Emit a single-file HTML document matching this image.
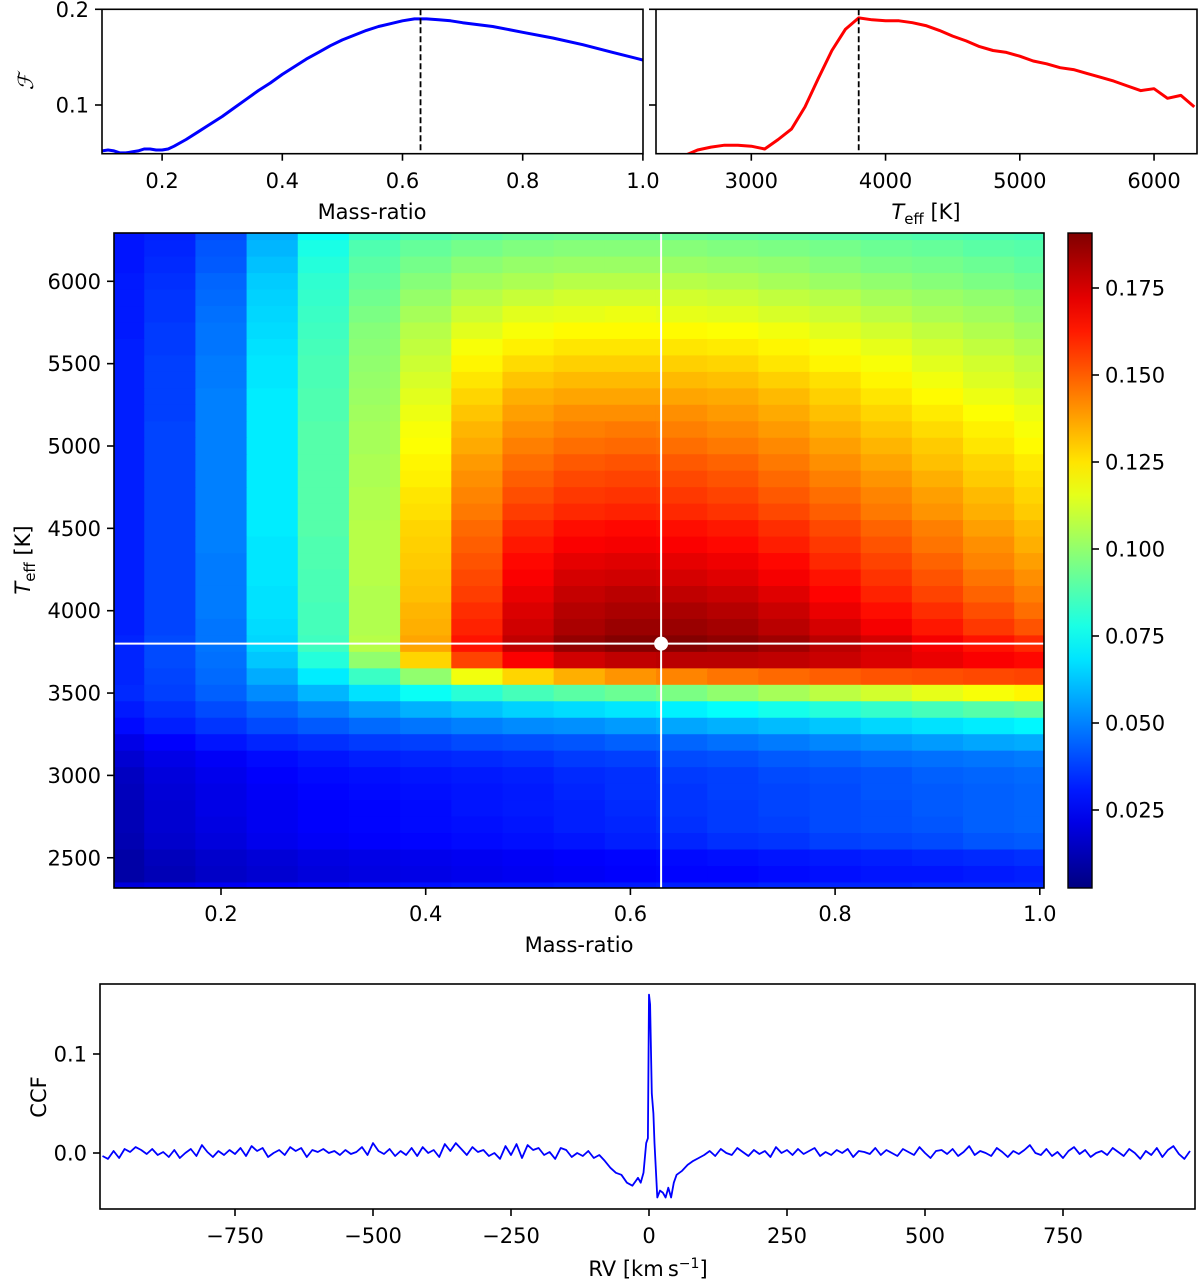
<!DOCTYPE html>
<html><head><meta charset="utf-8">
<style>
html,body{margin:0;padding:0;background:#fff;}
svg{display:block;font-family:"DejaVu Sans","Liberation Sans",sans-serif;}
</style></head>
<body>
<svg id="fig" xmlns="http://www.w3.org/2000/svg" width="1200" height="1284" viewBox="0 0 1200 1284">
<defs>
<clipPath id="clipHM"><rect x="114" y="233" width="930" height="655"/></clipPath>
<clipPath id="clipA"><rect x="102" y="9.3" width="541" height="144.4"/></clipPath>
<clipPath id="clipB"><rect x="656" y="9.3" width="541" height="144.4"/></clipPath>
<clipPath id="clipC"><rect x="100" y="984" width="1095" height="225"/></clipPath>
<linearGradient id="jetGrad" x1="0" y1="1" x2="0" y2="0"></linearGradient>
</defs>
<g id="panelA"></g>
<g id="panelB"></g>
<g id="heat"></g>
<g id="cbar"></g>
<g id="panelC"></g>
</svg>
<script>
const qCols = [0.10,0.15,0.20,0.25,0.30,0.35,0.40,0.45,0.50,0.55,0.60,0.65,0.70,0.75,0.80,0.85,0.90,0.95,1.00];
const teffRows = [6300,6200,6100,6000,5900,5800,5700,5600,5500,5400,5300,5200,5100,5000,4900,4800,4700,4600,4500,4400,4300,4200,4100,4000,3900,3800,3700,3600,3500,3400,3300,3200,3100,3000,2900,2800,2700,2600,2500,2400,2300];
const gridMilli = [
[30,32,40,58,75,84,88,90,92,93,93,93,92,91,90,89,88,87,86],
[30,33,42,60,78,88,92,95,97,98,98,98,97,96,95,93,92,90,89],
[30,34,43,62,80,90,95,99,101,102,102,102,101,100,98,96,95,93,91],
[31,35,45,64,82,92,98,103,105,107,107,107,106,104,102,100,98,96,94],
[31,36,46,65,83,94,101,107,110,112,112,112,111,109,107,104,102,100,98],
[31,36,47,66,84,96,104,111,115,116,117,116,115,113,111,108,105,103,100],
[31,37,48,67,85,98,107,115,119,121,121,121,120,118,115,112,109,106,103],
[32,37,48,68,86,99,109,119,123,125,125,125,124,122,119,116,112,109,106],
[32,38,49,69,87,100,111,122,127,129,129,129,128,125,122,119,115,112,109],
[32,38,49,69,87,101,113,125,131,133,133,133,132,129,126,122,118,114,111],
[32,38,50,70,88,102,115,128,135,137,137,137,136,133,129,125,121,117,114],
[32,38,50,70,88,103,117,131,138,141,141,141,139,136,132,128,124,120,117],
[32,39,50,70,89,104,119,134,141,144,145,144,142,139,135,131,127,123,119],
[32,39,50,70,89,104,120,136,144,147,148,147,145,142,138,134,130,125,121],
[32,39,50,70,89,105,122,139,147,151,152,151,149,145,141,137,132,128,124],
[32,39,50,70,89,105,123,141,150,154,155,154,152,148,144,140,135,130,126],
[32,39,50,70,89,106,125,143,153,157,158,157,155,151,147,143,138,133,128],
[32,39,50,70,89,106,126,145,156,160,161,160,158,154,150,145,140,135,130],
[32,39,50,70,89,107,128,148,160,165,166,165,163,159,154,149,144,138,133],
[32,39,50,69,88,107,129,150,163,168,169,168,166,162,157,152,146,141,135],
[32,39,49,69,88,107,130,152,166,172,173,172,170,166,160,155,149,143,138],
[32,39,49,69,87,107,131,154,168,175,176,175,173,169,164,158,152,146,141],
[32,39,49,68,87,106,132,156,171,178,180,179,177,173,167,161,155,149,144],
[32,39,49,68,86,106,134,159,174,181,183,183,181,177,171,165,159,153,147],
[32,39,48,67,86,106,135,161,176,183,186,186,184,180,175,169,163,157,152],
[33,40,48,66,85,107,137,164,179,187,190,190,188,185,180,175,169,164,160],
[33,40,47,63,80,100,128,155,168,176,179,180,180,179,177,174,171,168,166],
[33,39,46,58,70,84,100,118,128,135,140,143,146,148,150,152,153,154,155],
[34,38,44,52,60,68,75,81,86,90,93,96,100,104,108,112,116,119,122],
[31,35,40,45,50,55,59,62,65,67,69,71,74,77,80,83,86,89,91],
[28,32,36,40,43,46,48,50,52,53,55,57,59,61,63,66,68,70,72],
[22,26,30,33,35,37,38,40,41,42,44,45,47,49,51,53,55,57,58],
[18,22,25,28,30,32,33,34,35,37,38,40,41,43,44,46,47,48,49],
[15,20,23,26,28,29,30,31,32,34,35,37,38,40,41,42,44,45,46],
[14,19,22,25,27,28,29,30,31,33,35,36,38,39,40,42,43,44,45],
[13,18,22,24,26,27,28,30,31,32,34,36,37,39,40,41,43,44,45],
[13,18,21,24,26,27,28,29,30,32,33,35,37,38,40,41,42,44,45],
[12,17,20,23,25,26,27,28,29,30,32,33,35,36,38,39,40,42,43],
[10,14,17,19,21,22,23,24,25,26,27,28,29,30,31,32,33,34,35],
[10,13,16,18,20,21,22,23,24,25,26,27,27,28,29,30,30,31,32],
[20,22,24,26,27,28,29,30,30,31,31,32,32,33,33,33,34,34,34]
];
const bestQ = 0.63;
const bestTeff = 3800;
const cbarTicks = [0.025,0.050,0.075,0.100,0.125,0.150,0.175];
const cbarLabels = ["0.025","0.050","0.075","0.100","0.125","0.150","0.175"];
const hmXTicks = [0.2,0.4,0.6,0.8,1.0];
const hmXLabels = ["0.2","0.4","0.6","0.8","1.0"];
const hmYTicks = [2500,3000,3500,4000,4500,5000,5500,6000];

const massQ = [0.10,0.11,0.12,0.13,0.14,0.15,0.16,0.17,0.18,0.19,0.20,0.21,0.22,0.24,0.26,0.28,0.30,0.32,0.34,0.36,0.38,0.40,0.42,0.44,0.46,0.48,0.50,0.52,0.54,0.56,0.58,0.60,0.62,0.63,0.64,0.66,0.68,0.70,0.75,0.80,0.85,0.90,0.95,1.00];
const massF = [0.052,0.053,0.052,0.050,0.050,0.051,0.052,0.054,0.054,0.053,0.053,0.054,0.057,0.064,0.072,0.080,0.088,0.097,0.106,0.115,0.123,0.132,0.140,0.148,0.155,0.162,0.168,0.173,0.178,0.182,0.185,0.188,0.190,0.190,0.190,0.189,0.188,0.186,0.182,0.176,0.170,0.163,0.155,0.147];
const aXTicks = [0.2,0.4,0.6,0.8,1.0];
const aXLabels = ["0.2","0.4","0.6","0.8","1.0"];
const fTicks = [0.1,0.2];
const fLabels = ["0.1","0.2"];

const teffT = [2500,2600,2700,2800,2900,3000,3100,3200,3300,3400,3500,3600,3700,3800,3900,4000,4100,4200,4300,4400,4500,4600,4700,4800,4900,5000,5100,5200,5300,5400,5500,5600,5700,5800,5900,6000,6100,6200,6300];
const teffF = [0.047,0.053,0.056,0.058,0.058,0.057,0.054,0.064,0.075,0.098,0.128,0.157,0.179,0.191,0.189,0.188,0.188,0.186,0.183,0.178,0.172,0.167,0.161,0.157,0.155,0.151,0.146,0.143,0.139,0.137,0.133,0.129,0.125,0.120,0.115,0.117,0.107,0.110,0.098];
const bXTicks = [3000,4000,5000,6000];

const ccfRV = [-990,-980,-970,-960,-950,-940,-930,-920,-910,-900,-890,-880,-870,-860,-850,-840,-830,-820,-810,-800,-790,-780,-770,-760,-750,-740,-730,-720,-710,-700,-690,-680,-670,-660,-650,-640,-630,-620,-610,-600,-590,-580,-570,-560,-550,-540,-530,-520,-510,-500,-490,-480,-470,-460,-450,-440,-430,-420,-410,-400,-390,-380,-370,-360,-350,-340,-330,-320,-310,-300,-290,-280,-270,-260,-250,-240,-230,-220,-210,-200,-190,-180,-170,-160,-150,-140,-130,-120,-110,-100,-90,-80,-70,-60,-50,-40,-30,-20,-15,-10,-5,-2,0,2,5,8,10,15,20,25,30,35,40,45,50,60,70,80,90,100,110,120,130,140,150,160,170,180,190,200,210,220,230,240,250,260,270,280,290,300,310,320,330,340,350,360,370,380,390,400,410,420,430,440,450,460,470,480,490,500,510,520,530,540,550,560,570,580,590,600,610,620,630,640,650,660,670,680,690,700,710,720,730,740,750,760,770,780,790,800,810,820,830,840,850,860,870,880,890,900,910,920,930,940,950,960,970,980,990];
const ccfMilli = [-3,-6,2,-5,4,1,6,3,-1,4,-2,1,-4,3,-5,0,4,-3,8,1,-4,2,-2,3,-1,5,-3,7,2,5,-4,0,3,-2,6,2,5,-4,3,1,4,0,2,-2,3,-1,1,6,-2,10,2,-1,4,-3,2,-2,5,-3,6,0,3,-4,9,2,10,4,-2,6,1,3,-3,0,-6,7,-2,9,-5,8,3,5,-2,1,-6,5,3,-4,0,-3,2,-5,-2,-8,-15,-20,-22,-30,-33,-25,-30,-20,10,15,160,150,60,40,10,-45,-38,-40,-45,-35,-45,-30,-22,-18,-12,-8,-5,-2,2,-3,4,0,-2,5,1,-3,3,-1,2,-4,6,0,3,-2,4,-1,2,5,-3,1,-2,3,0,4,-4,2,1,-1,5,-2,3,0,-3,4,1,-2,6,0,-5,2,3,-1,4,-3,1,7,-2,2,0,-3,5,1,-4,2,-1,3,8,0,-2,4,-3,1,-5,2,6,-1,3,-4,0,2,-2,5,1,-3,4,0,-6,2,-2,5,-4,3,7,-1,-6,2];
const cXTicks = [-750,-500,-250,0,250,500,750];
const cXLabels = ["\u2212750","\u2212500","\u2212250","0","250","500","750"];
const cYTicks = [0.0,0.1];
const cYLabels = ["0.0","0.1"];

const NS = "http://www.w3.org/2000/svg";
function mk(tag, attrs, parent){ const e=document.createElementNS(NS,tag); for(const k in attrs) e.setAttribute(k,attrs[k]); if(parent) parent.appendChild(e); return e; }
function clamp(v){return Math.max(0,Math.min(1,v));}
function jet(t){ t=clamp(t); const r=clamp(1.5-Math.abs(4*t-3)), g=clamp(1.5-Math.abs(4*t-2)), b=clamp(1.5-Math.abs(4*t-1)); return `rgb(${Math.round(r*255)},${Math.round(g*255)},${Math.round(b*255)})`; }
const vmin=0.0029, vmax=0.1908;
const FS = 21;

const hx = q => 221 + (q-0.2)*1023.5;
const hy = T => 610.7 + (4000-T)*0.1647;
const heat = document.getElementById('heat');
const cells = mk('g',{'clip-path':'url(#clipHM)'},heat);


teffRows.forEach((T,ri)=>{
  qCols.forEach((q,ci)=>{
    const v = gridMilli[ri][ci]/1000;
    const x0=hx(q-0.025), x1=hx(q+0.025), y0=hy(T+50), y1=hy(T-50);
    const r = mk('rect',{x:x0,y:y0,width:x1-x0+0.6,height:y1-y0+0.6,fill:jet((v-vmin)/(vmax-vmin))},cells);
    
    
  });
});
const vline = mk('line',{x1:hx(bestQ),x2:hx(bestQ),y1:233,y2:888,stroke:'#fff','stroke-width':2},heat);


const hline = mk('line',{x1:114,x2:1044,y1:hy(bestTeff),y2:hy(bestTeff),stroke:'#fff','stroke-width':2},heat);


const dot = mk('circle',{cx:hx(bestQ),cy:hy(bestTeff),r:7,fill:'#fff'},heat);


const hbox = mk('rect',{x:114,y:233,width:930,height:655,fill:'none',stroke:'#000','stroke-width':1.6},heat);


hmXTicks.forEach((q,i)=>{
  mk('line',{x1:hx(q),x2:hx(q),y1:888,y2:895,stroke:'#000','stroke-width':1.6},heat);
  const t = mk('text',{x:hx(q),y:921,'font-size':FS,'text-anchor':'middle'},heat);
  t.textContent = hmXLabels[i];
  
  
});
hmYTicks.forEach(T=>{
  mk('line',{x1:107,x2:114,y1:hy(T),y2:hy(T),stroke:'#000','stroke-width':1.6},heat);
  const t = mk('text',{x:101,y:hy(T)+7.5,'font-size':FS,'text-anchor':'end'},heat);
  t.textContent = String(T);
  
  
});
const hxl = mk('text',{x:579,y:952,'font-size':FS,'text-anchor':'middle'},heat);
hxl.textContent='Mass-ratio';


const hyl = mk('text',{x:0,y:0,'font-size':FS,'text-anchor':'middle',transform:'translate(30,560) rotate(-90)'},heat);
hyl.innerHTML='<tspan font-style="italic">T</tspan><tspan font-size="15" dy="5">eff</tspan><tspan dy="-5"> [K]</tspan>';



const grad = document.getElementById('jetGrad');
for(let i=0;i<=20;i++){ mk('stop',{offset:(i/20),'stop-color':jet(i/20)},grad); }
const cb = document.getElementById('cbar');
const cby = v => 288 + (0.175-v)/0.025*87;
const cbr = mk('rect',{x:1068,y:233,width:24,height:655,fill:'url(#jetGrad)',stroke:'#000','stroke-width':1.4},cb);


cbarTicks.forEach((v,i)=>{
  mk('line',{x1:1092,x2:1099,y1:cby(v),y2:cby(v),stroke:'#000','stroke-width':1.6},cb);
  const t = mk('text',{x:1105,y:cby(v)+7.5,'font-size':FS},cb);
  t.textContent=cbarLabels[i];
  
  
});

const ax = q => 102 + (q-0.1)*601;
const fy = f => 9.3 + (0.2-f)*957;
const pA = document.getElementById('panelA');
const dA = massQ.map((q,i)=>(i?'L':'M')+ax(q).toFixed(1)+','+fy(massF[i]).toFixed(1)).join(' ');
const lineA = mk('path',{d:dA,fill:'none',stroke:'#0000ff','stroke-width':3,'clip-path':'url(#clipA)','stroke-linejoin':'round'},pA);


const dashA = mk('line',{x1:ax(bestQ),x2:ax(bestQ),y1:9.3,y2:153.7,stroke:'#000','stroke-width':1.8,'stroke-dasharray':'6,3'},pA);


mk('rect',{x:102,y:9.3,width:541,height:144.4,fill:'none',stroke:'#000','stroke-width':1.6},pA);
aXTicks.forEach((q,i)=>{
  mk('line',{x1:ax(q),x2:ax(q),y1:153.7,y2:160.7,stroke:'#000','stroke-width':1.6},pA);
  const t = mk('text',{x:ax(q),y:188,'font-size':FS,'text-anchor':'middle'},pA);
  t.textContent=aXLabels[i];
  
  
});
fTicks.forEach((f,i)=>{
  mk('line',{x1:95,x2:102,y1:fy(f),y2:fy(f),stroke:'#000','stroke-width':1.6},pA);
  const t = mk('text',{x:89,y:fy(f)+7.5,'font-size':FS,'text-anchor':'end'},pA);
  t.textContent=fLabels[i];
  
  
});
const axl = mk('text',{x:372,y:219,'font-size':FS,'text-anchor':'middle'},pA);
axl.textContent='Mass-ratio';


const ayl = mk('text',{x:0,y:0,'font-size':FS,'font-style':'italic','font-family':'DejaVu Serif, serif','text-anchor':'middle',transform:'translate(33,82) rotate(-90)'},pA);
ayl.textContent='\u2131';



const bx = T => 656 + (T-2290)*(541/4030);
const pB = document.getElementById('panelB');
const dB = teffT.map((T,i)=>(i?'L':'M')+bx(T).toFixed(1)+','+fy(teffF[i]).toFixed(1)).join(' ');
const lineB = mk('path',{d:dB,fill:'none',stroke:'#ff0000','stroke-width':3,'clip-path':'url(#clipB)','stroke-linejoin':'round'},pB);


const dashB = mk('line',{x1:bx(bestTeff),x2:bx(bestTeff),y1:9.3,y2:153.7,stroke:'#000','stroke-width':1.8,'stroke-dasharray':'6,3'},pB);


mk('rect',{x:656,y:9.3,width:541,height:144.4,fill:'none',stroke:'#000','stroke-width':1.6},pB);
bXTicks.forEach(T=>{
  mk('line',{x1:bx(T),x2:bx(T),y1:153.7,y2:160.7,stroke:'#000','stroke-width':1.6},pB);
  const t = mk('text',{x:bx(T),y:188,'font-size':FS,'text-anchor':'middle'},pB);
  t.textContent=String(T);
  
  
});
fTicks.forEach(f=>{ mk('line',{x1:649,x2:656,y1:fy(f),y2:fy(f),stroke:'#000','stroke-width':1.6},pB); });
const bxl = mk('text',{x:926,y:219,'font-size':FS,'text-anchor':'middle'},pB);
bxl.innerHTML='<tspan font-style="italic">T</tspan><tspan font-size="15" dy="5">eff</tspan><tspan dy="-5"> [K]</tspan>';



const cx = v => 649 + v*0.552;
const cy = v => 1153 - v*990;
const pC = document.getElementById('panelC');
const dC = ccfRV.map((v,i)=>(i?'L':'M')+cx(v).toFixed(1)+','+cy(ccfMilli[i]/1000).toFixed(1)).join(' ');
const lineC = mk('path',{d:dC,fill:'none',stroke:'#0000ff','stroke-width':1.8,'clip-path':'url(#clipC)','stroke-linejoin':'round'},pC);


mk('rect',{x:100,y:984,width:1095,height:225,fill:'none',stroke:'#000','stroke-width':1.6},pC);
cXTicks.forEach((v,i)=>{
  mk('line',{x1:cx(v),x2:cx(v),y1:1209,y2:1216,stroke:'#000','stroke-width':1.6},pC);
  const t = mk('text',{x:cx(v),y:1243,'font-size':FS,'text-anchor':'middle'},pC);
  t.textContent=cXLabels[i];
  
  
});
cYTicks.forEach((v,i)=>{
  mk('line',{x1:93,x2:100,y1:cy(v),y2:cy(v),stroke:'#000','stroke-width':1.6},pC);
  const t = mk('text',{x:87,y:cy(v)+7.5,'font-size':FS,'text-anchor':'end'},pC);
  t.textContent=cYLabels[i];
  
  
});
const cxl = mk('text',{x:648,y:1276,'font-size':FS,'text-anchor':'middle'},pC);
cxl.innerHTML='RV [km\u2009s<tspan font-size="14" dy="-8">\u22121</tspan><tspan dy="8">]</tspan>';


const cyl = mk('text',{x:0,y:0,'font-size':FS,'text-anchor':'middle',transform:'translate(46,1097) rotate(-90)'},pC);
cyl.textContent='CCF';


</script>
</body></html>
